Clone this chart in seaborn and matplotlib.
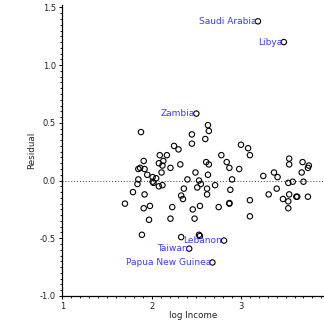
import numpy as np
import pandas as pd
import matplotlib
matplotlib.use("Agg")
import matplotlib.pyplot as plt
import seaborn as sns
from matplotlib.ticker import MultipleLocator

# Residuals from the regression, plotted against log income
log_income = [
    1.88, 2.25, 2.30, 2.09, 2.17, 2.13, 2.08, 2.12, 2.21, 1.91,
    1.87, 1.92, 1.85, 2.32, 2.63, 2.64, 2.45, 2.60, 2.45, 3.00,
    3.08, 3.10, 2.78, 2.61, 2.64, 2.84, 2.87, 2.98, 3.54, 3.54,
    3.69, 3.76, 2.11, 1.95, 1.85, 2.01, 2.05, 2.01, 2.02, 1.84,
    2.08, 2.12, 1.79, 1.92, 1.70, 1.91, 1.98, 2.23, 1.97, 2.21,
    1.89, 2.33, 2.35, 2.49, 2.63, 2.40, 2.53, 2.36, 2.51, 2.55,
    2.62, 2.71, 2.90, 2.88, 2.62, 2.46, 2.54, 2.75, 2.87, 2.87,
    2.48, 3.10, 3.10, 3.25, 3.37, 3.41, 3.68, 3.75, 3.53, 3.58,
    3.70, 3.40, 3.31, 3.54, 3.47, 3.53, 3.62, 3.63, 3.75, 3.53,
    2.33, 2.53, 2.54,
]
residual = [
    0.42, 0.30, 0.27, 0.22, 0.22, 0.17, 0.15, 0.13, 0.11, 0.17,
    0.11, 0.10, 0.10, 0.14, 0.48, 0.43, 0.40, 0.36, 0.32, 0.31,
    0.28, 0.22, 0.22, 0.16, 0.14, 0.16, 0.11, 0.10, 0.19, 0.14,
    0.16, 0.13, 0.07, 0.05, 0.01, 0.03, 0.02, -0.01, -0.02, -0.03,
    -0.05, -0.04, -0.10, -0.12, -0.20, -0.24, -0.22, -0.23, -0.34, -0.33,
    -0.47, -0.13, -0.16, 0.07, 0.05, 0.01, 0.00, -0.07, -0.06, -0.03,
    -0.07, -0.04, 0.01, -0.08, -0.12, -0.25, -0.22, -0.23, -0.20, -0.195,
    -0.33, -0.17, -0.31, 0.04, 0.07, 0.03, 0.07, 0.11, -0.02, -0.01,
    -0.01, -0.07, -0.12, -0.12, -0.16, -0.18, -0.14, -0.14, -0.14, -0.24,
    -0.49, -0.47, -0.48,
]

# Countries singled out by name
named_countries = ["Saudi Arabia", "Libya", "Zambia", "Lebanon", "Taiwan", "Papua New Guinea"]
named_income = [3.19, 3.48, 2.50, 2.81, 2.42, 2.68]
named_residual = [1.38, 1.20, 0.58, -0.52, -0.59, -0.71]

x_ticks = [1, 2, 3]
y_ticks = [-1.0, -0.5, 0.0, 0.5, 1.0, 1.5]

df = pd.DataFrame({
    "log Income": log_income + named_income,
    "Residual": residual + named_residual,
})

sns.set_style("ticks")
plt.rcParams["font.family"] = ["DejaVu Sans"]

fig = plt.figure(figsize=(3.24, 3.21), dpi=100)
ax = fig.add_axes([0.19, 0.078, 0.81, 0.906])

ax.axhline(0, color="#444444", lw=0.7, ls=(0, (1, 2)), zorder=1)

sns.scatterplot(
    data=df, x="log Income", y="Residual", ax=ax,
    marker="o", s=15, facecolor="none", edgecolor="black", linewidth=0.8,
    zorder=3,
)

for name, xv, yv in zip(named_countries, named_income, named_residual):
    ax.annotate(name, (xv, yv), xytext=(-1.2, 0), textcoords="offset points",
                ha="right", va="center", fontsize=6.5, color="#3a3aff")

ax.set_xlim(0.99, 3.93)
ax.set_ylim(-1.0, 1.52)
ax.set_xticks(x_ticks)
ax.set_xticklabels([str(t) for t in x_ticks])
ax.set_yticks(y_ticks)
ax.set_yticklabels([f"{t:.1f}" for t in y_ticks])
ax.xaxis.set_minor_locator(MultipleLocator(0.1))
ax.yaxis.set_minor_locator(MultipleLocator(0.05))

ax.tick_params(which="major", direction="out", length=2.5, width=0.7,
               labelsize=6, pad=1.5, color="black", labelcolor="#222222")
ax.tick_params(which="minor", direction="out", length=1.4, width=0.6, color="black")

for side in ("top", "right"):
    ax.spines[side].set_visible(False)
for side in ("left", "bottom"):
    ax.spines[side].set_linewidth(0.9)
    ax.spines[side].set_color("black")

ax.set_xlabel("log Income", fontsize=6.3, labelpad=0.5, color="#222222")
ax.set_ylabel("Residual", fontsize=6.3, labelpad=3, color="#222222")

fig.savefig("out.png", dpi=100)
